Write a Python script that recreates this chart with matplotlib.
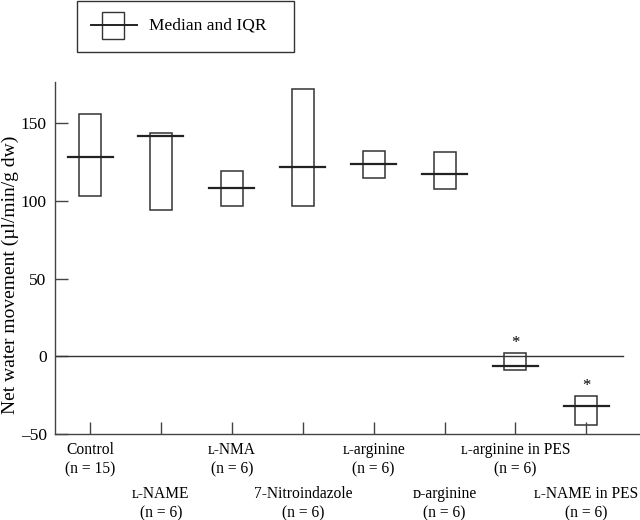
import matplotlib
matplotlib.use("Agg")
import matplotlib.pyplot as plt
from matplotlib.patches import Rectangle
from matplotlib.lines import Line2D
import matplotlib.transforms as mtransforms

plt.rcParams['font.family'] = ['Liberation Serif', 'DejaVu Serif']
plt.rcParams['font.size'] = 12

categories = ["Control", "\u029f-NAME", "\u029f-NMA", "7-Nitroindazole", "\u029f-arginine",
              "\u1d05-arginine", "\u029f-arginine in PES", "\u029f-NAME in PES"]
n_values = [15, 6, 6, 6, 6, 6, 6, 6]
q1 = [103, 94, 97, 97, 114.6, 107.8, -8.5, -44]
median = [128, 142, 108, 121.5, 124, 117, -6.2, -32]
q3 = [156, 143.7, 119.5, 172, 132, 131.5, 2.4, -25.3]
significant = [False, False, False, False, False, False, True, True]
yticks = [-50, 0, 50, 100, 150]

fig = plt.figure(figsize=(6.4, 5.2), dpi=100)
ax = fig.add_axes([55/640, 1 - 434/520, 1 - 55/640, (434 - 82)/520])

box_w = 0.31
med_w = 0.635
lc = '#333333'
for i in range(len(categories)):
    ax.add_patch(Rectangle((i - box_w/2, q1[i]), box_w, q3[i] - q1[i],
                           fill=False, edgecolor=lc, lw=1.1))
    ax.plot([i - med_w/2, i + med_w/2], [median[i], median[i]], color='#222222', lw=1.6)
    if significant[i]:
        ax.annotate('*', (i, q3[i]), xytext=(0, 1), textcoords='offset points',
                    ha='center', va='bottom', fontsize=12)

ax.plot([-0.5, 7.52], [0, 0], color=lc, lw=1.0)

ax.set_xlim(-0.494, 7.756)
ax.set_ylim(-50, 176.5)
ax.spines['top'].set_visible(False)
ax.spines['right'].set_visible(False)
for s in ['left', 'bottom']:
    ax.spines[s].set_color('#444444')
    ax.spines[s].set_linewidth(1.0)
ax.set_yticks(yticks)
ax.set_yticklabels([str(v).replace('-', '\u2013') for v in yticks])
ax.set_xticks(range(len(categories)))
ax.set_xticklabels([])
ax.tick_params(axis='both', direction='in', length=9, width=1.0, color='#444444')
ax.tick_params(axis='y', labelsize=12.5, pad=6)

trans = mtransforms.blended_transform_factory(ax.transData, ax.transAxes)
for i, (c, n) in enumerate(zip(categories, n_values)):
    dy = -8 if i % 2 == 0 else -52
    ax.annotate(f"{c}\n(n = {n})", (i, 0), xycoords=trans, xytext=(0, dy * 0.72),
                textcoords='offset points', ha='center', va='top', fontsize=11.2,
                linespacing=1.25, annotation_clip=False)

ax.set_ylabel("Net water movement (\u00b5l/min/g dw)", fontsize=14)
ax.yaxis.set_label_coords(-0.062, 0.452)

# legend frame
W, H = 640, 520
def fx(px): return px / W
def fy(py): return 1 - py / H
fig.add_artist(Rectangle((fx(77), fy(52)), fx(294) - fx(77), fy(1) - fy(52),
                         transform=fig.transFigure, fill=False, edgecolor='#333333', lw=1.0))
fig.add_artist(Rectangle((fx(102), fy(39)), fx(124) - fx(102), fy(12) - fy(39),
                         transform=fig.transFigure, fill=False, edgecolor='#333333', lw=1.0))
fig.add_artist(Line2D([fx(91), fx(137)], [fy(25), fy(25)], transform=fig.transFigure,
                      color='#222222', lw=1.4))
fig.text(fx(149), fy(26), "Median and IQR", ha='left', va='center', fontsize=12.5)

fig.savefig("out.png", dpi=100)
